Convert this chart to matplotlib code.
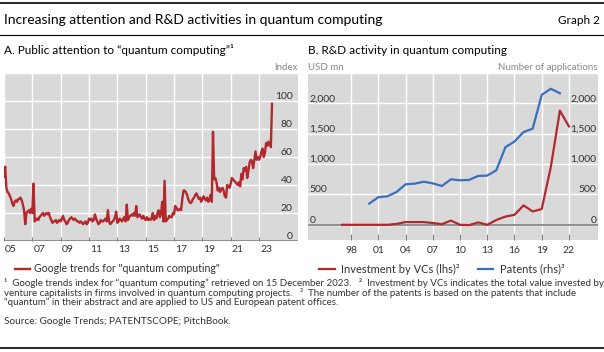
import numpy as np
import matplotlib.pyplot as plt
from matplotlib.ticker import FixedLocator, NullFormatter, FuncFormatter

plt.rcParams['font.family'] = ['Lato', 'DejaVu Sans']

W, H = 604, 352

# Panel A: Google trends index, monthly, Jan 2005 - Dec 2023
trends = {
    2005: [46, 53, 38, 35, 34, 32, 30, 27, 25, 28, 29, 28],
    2006: [30, 30, 31, 29, 26, 22, 12, 20, 21, 22, 20, 23],
    2007: [20, 41, 14, 15, 16, 15, 17, 18, 19, 20, 18, 19],
    2008: [20, 19, 20, 17, 15, 13, 14, 14, 15, 13, 14, 15],
    2009: [14, 16, 18, 15, 14, 12, 13, 15, 16, 17, 16, 15],
    2010: [16, 15, 14, 14, 13, 14, 13, 12, 13, 14, 12, 13],
    2011: [16, 15, 16, 14, 15, 19, 16, 14, 12, 13, 15, 14],
    2012: [14, 15, 16, 14, 22, 14, 12, 13, 14, 15, 17, 21],
    2013: [13, 14, 16, 15, 14, 16, 17, 14, 26, 15, 17, 18],
    2014: [19, 18, 20, 18, 25, 17, 18, 19, 17, 16, 18, 16],
    2015: [15, 17, 15, 16, 15, 16, 20, 15, 18, 16, 20, 22],
    2016: [17, 20, 28, 14, 43, 14, 15, 16, 18, 17, 17, 20],
    2017: [19, 25, 24, 22, 22, 23, 22, 30, 36, 36, 35, 33],
    2018: [30, 28, 27, 28, 30, 31, 33, 34, 32, 30, 31, 28],
    2019: [30, 32, 30, 29, 31, 28, 30, 33, 28, 78, 44, 45],
    2020: [42, 36, 38, 35, 37, 38, 36, 32, 31, 40, 39, 38],
    2021: [41, 45, 44, 43, 42, 41, 40, 42, 39, 48, 44, 52],
    2022: [50, 53, 45, 50, 56, 58, 57, 52, 58, 64, 58, 60],
    2023: [58, 60, 64, 66, 60, 63, 70, 68, 71, 69, 67, 98],
}

# Panel B: VC investment (USD mn) and patent applications
vc_years = list(range(1997, 2023))
vc_invest = [0, 0, 0, 0, 0, 0, 15, 45, 45, 45, 30, 10, 70, 0, -5, 40, 0,
             80, 135, 165, 320, 220, 260, 950, 1880, 1620]
pat_years = list(range(2000, 2022))
patents = [350, 455, 470, 540, 667, 678, 710, 683, 640, 750, 733, 740, 805,
           810, 900, 1278, 1372, 1528, 1583, 2140, 2240, 2167]

RED = '#b3282d'
BLUE = '#3a6fc0'
BG = '#d9d9d9'
TXT = '#333333'
GREY = '#808080'


def fx(x):
    return x / W


def fy(y):
    return 1 - y / H


def ax_rect(x0, y0, x1, y1):
    return [fx(x0), fy(y1), (x1 - x0) / W, (y1 - y0) / H]


def style_axes(ax):
    ax.set_facecolor(BG)
    for s in ax.spines.values():
        s.set_visible(False)
    ax.grid(True, color='white', linewidth=1.0)
    ax.set_axisbelow(True)


fig = plt.figure(figsize=(W / 100, H / 100), dpi=100)

# ---- panel A
axA = fig.add_axes(ax_rect(4, 73, 298, 241))
style_axes(axA)
x_months = []
y_trend = []
for yr, vals in trends.items():
    for m, v in enumerate(vals):
        x_months.append(yr + m / 12)
        y_trend.append(v)
lt, = axA.plot(x_months, y_trend, color=RED, linewidth=1.7)
axA.set_xlim(2005, 2025.75)
axA.set_ylim(0, 120)
axA.xaxis.set_major_locator(FixedLocator(list(range(2005, 2025, 2))))
axA.xaxis.set_major_formatter(NullFormatter())
axA.xaxis.set_minor_locator(FixedLocator([y + 0.5 for y in range(2005, 2025, 2)]))
axA.xaxis.set_minor_formatter(FuncFormatter(lambda v, p: '%02d' % (int(v) % 100)))
axA.tick_params(axis='x', which='major', direction='in', length=3, color=GREY, width=0.8)
axA.tick_params(axis='x', which='minor', length=0, pad=3, labelsize=7.5, labelcolor=TXT)
axA.set_yticks(range(0, 121, 20))
axA.set_yticklabels(['0', '20', '40', '60', '80', '100', ''])
axA.yaxis.tick_right()
axA.tick_params(axis='y', length=0, pad=-4, labelsize=7.5, labelcolor=TXT)
for lab in axA.get_yticklabels():
    lab.set_horizontalalignment('right')
    lab.set_verticalalignment('bottom')
axA.axhline(0, color=GREY, linewidth=1.2, zorder=1)

# ---- panel B
axB = fig.add_axes(ax_rect(308, 73, 598, 240))
style_axes(axB)
axB.set_xlim(1993.25, 2025.2)
axB.set_ylim(-250, 2500)
axB.axhline(0, color=GREY, linewidth=1.2, zorder=1)
lv, = axB.plot(vc_years, vc_invest, color=RED, linewidth=1.6)
axB2 = axB.twinx()
for s in axB2.spines.values():
    s.set_visible(False)
axB2.set_ylim(-250, 2500)
lp, = axB2.plot(pat_years, patents, color=BLUE, linewidth=1.6)
axB.set_xticks(range(1998, 2023, 3))
axB.set_xticklabels(['%02d' % (y % 100) for y in range(1998, 2023, 3)])
axB.tick_params(axis='x', direction='in', length=4, color=GREY, width=0.8,
                pad=4, labelsize=7.5, labelcolor=TXT)
ticksB = [0, 500, 1000, 1500, 2000, 2500]
labsB = ['0', '500', '1,000', '1,500', '2,000', '']
axB.set_yticks(ticksB)
axB.set_yticklabels(labsB)
axB.tick_params(axis='y', length=0, pad=-1, labelsize=7.5, labelcolor=TXT)
for lab in axB.get_yticklabels():
    lab.set_horizontalalignment('left')
    lab.set_verticalalignment('bottom')
axB2.set_yticks(ticksB)
axB2.set_yticklabels(labsB)
axB2.tick_params(axis='y', length=0, pad=-1, labelsize=7.5, labelcolor=TXT)
for lab in axB2.get_yticklabels():
    lab.set_horizontalalignment('right')
    lab.set_verticalalignment('bottom')

# ---- rules and texts
fig.add_artist(plt.Line2D([0, 1], [fy(3), fy(3)], color='black', linewidth=1.2))
fig.add_artist(plt.Line2D([0, 1], [fy(35), fy(35)], color='black', linewidth=0.8))
fig.add_artist(plt.Line2D([0, 1], [fy(348), fy(348)], color='black', linewidth=1.2))

fig.text(fx(4), fy(20), 'Increasing attention and R&D activities in quantum computing',
         fontsize=10, va='center', ha='left', color='black')
fig.text(fx(600), fy(20), 'Graph 2', fontsize=8.5, va='center', ha='right', color='black')
fig.text(fx(4), fy(50), 'A. Public attention to \u201cquantum computing\u201d\u00b9',
         fontsize=8.5, va='center', ha='left', color='black')
fig.text(fx(308), fy(50), 'B. R&D activity in quantum computing',
         fontsize=8.5, va='center', ha='left', color='black')
fig.text(fx(298), fy(67), 'Index', fontsize=7, va='center', ha='right', color='#888888')
fig.text(fx(308), fy(67), 'USD mn', fontsize=7, va='center', ha='left', color='#888888')
fig.text(fx(598), fy(67), 'Number of applications', fontsize=7, va='center', ha='right',
         color='#888888')

# legends
axA.legend([lt], ['Google trends for "quantum computing"'],
           loc='center left', bbox_to_anchor=(fx(15), fy(269)),
           bbox_transform=fig.transFigure, frameon=False, fontsize=7.6,
           handlelength=1.4, handletextpad=0.4, borderpad=0, borderaxespad=0,
           labelcolor=TXT)
axB2.legend([lv, lp], ['Investment by VCs (lhs)\u00b2', 'Patents (rhs)\u00b3'],
            loc='center left', bbox_to_anchor=(fx(319), fy(269)),
            bbox_transform=fig.transFigure, frameon=False, fontsize=8, ncol=2,
            handlelength=1.4, handletextpad=0.6, columnspacing=1.6, borderpad=0,
            borderaxespad=0, labelcolor=TXT)

notes = [
    '\u00b9  Google trends index for \u201cquantum computing\u201d retrieved on 15 December 2023.   '
    '\u00b2  Investment by VCs indicates the total value invested by',
    'venture capitalists in firms involved in quantum computing projects.   '
    '\u00b3  The number of the patents is based on the patents that include',
    '\u201cquantum\u201d in their abstract and are applied to US and European patent offices.',
]
for i, line in enumerate(notes):
    fig.text(fx(4), fy(283 + 9.8 * i), line, fontsize=7.05, va='center', ha='left', color=TXT)
fig.text(fx(4), fy(321), 'Source: Google Trends; PATENTSCOPE; PitchBook.', fontsize=7.2,
         va='center', ha='left', color=TXT)

fig.savefig('out.png', dpi=100)
